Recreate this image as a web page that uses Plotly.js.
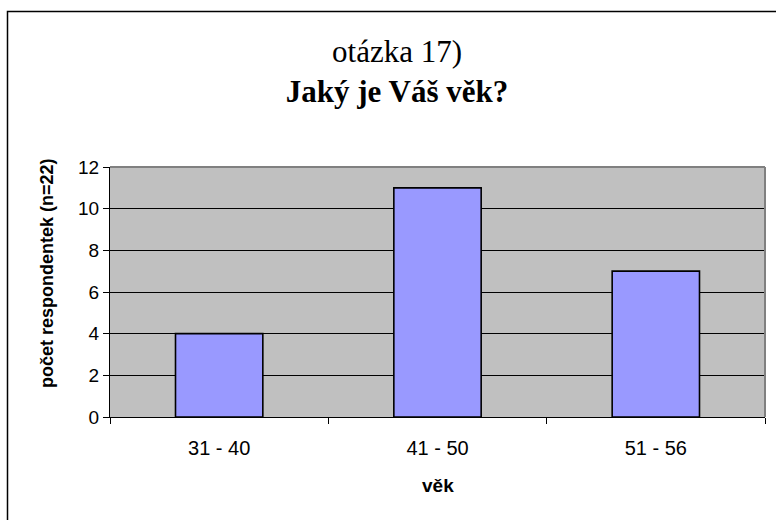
<!DOCTYPE html>
<html>
<head>
<meta charset="utf-8">
<script src="https://cdn.plot.ly/plotly-3.0.1.min.js"></script>
<style>html,body{margin:0;padding:0;background:#fff;}#chart{width:776px;height:520px;}</style>
</head>
<body>
<div id="chart"></div>
<script>
const categories = ["31 - 40", "41 - 50", "51 - 56"];
const values = [4, 11, 7];
const yTicks = [0, 2, 4, 6, 8, 10, 12];
const titleLine1 = "otázka 17)";
const titleLine2 = "Jaký je Váš věk?";
const yTitle = "počet respondentek (n=22)";
const xTitle = "věk";

const sans = "Liberation Sans, Arial, sans-serif";
const serif = "Liberation Serif, Times New Roman, serif";

const trace = {
  type: "bar",
  x: categories,
  y: values,
  marker: {color: "#9999FF", line: {color: "#000000", width: 1.6}},
  width: 0.4,
  hoverinfo: "x+y"
};

const layout = {
  width: 776, height: 520,
  margin: {l: 110, r: 11, t: 167, b: 103, pad: 0},
  paper_bgcolor: "#FFFFFF",
  plot_bgcolor: "#C0C0C0",
  showlegend: false,
  title: {
    text: titleLine1 + "<br><b>" + titleLine2 + "</b>",
    font: {family: serif, size: 31, color: "#000"},
    xref: "container", x: 397 / 776, xanchor: "center",
    yref: "container", y: 1 - 62 / 520, yanchor: "top"
  },
  xaxis: {
    type: "category",
    tickson: "boundaries",
    ticks: "outside", ticklen: 6, tickwidth: 1, tickcolor: "#000",
    showline: true, linecolor: "#000", linewidth: 1,
    showgrid: false, zeroline: false,
    tickfont: {family: sans, size: 20, color: "#000"},
    ticklabelstandoff: 13,
    fixedrange: true
  },
  yaxis: {
    range: [0, 12],
    tickvals: yTicks,
    ticks: "outside", ticklen: 6, tickwidth: 1, tickcolor: "#000",
    showline: true, linecolor: "#000", linewidth: 1,
    showgrid: true, gridcolor: "#000", gridwidth: 1,
    zeroline: false,
    tickfont: {family: sans, size: 19, color: "#000"},
    fixedrange: true
  },
  annotations: [
    {
      text: "<b>" + yTitle + "</b>", textangle: -90,
      xref: "paper", x: (47 - 110) / 655, xanchor: "center",
      yref: "paper", y: (417 - 273) / 250, yanchor: "middle",
      showarrow: false,
      font: {family: sans, size: 18, color: "#000"}
    },
    {
      text: "<b>" + xTitle + "</b>",
      xref: "paper", x: 0.5, xanchor: "center",
      yref: "paper", y: (417 - 485) / 250, yanchor: "middle",
      showarrow: false,
      font: {family: sans, size: 19, color: "#000"}
    }
  ],
  shapes: [
    {type: "line", xref: "paper", yref: "paper", x0: 0, x1: 1, y0: 1, y1: 1,
     line: {color: "#808080", width: 2}, layer: "above"},
    {type: "line", xref: "paper", yref: "paper", x0: 1, x1: 1, y0: 0, y1: 1,
     line: {color: "#808080", width: 2}, layer: "above"},
    {type: "rect", xref: "paper", yref: "paper",
     x0: (7.5 - 110) / 655, x1: 1.05, y0: -0.5, y1: (417 - 11.5) / 250,
     line: {color: "#000", width: 1.5}, fillcolor: "rgba(0,0,0,0)", layer: "above"}
  ]
};

Plotly.newPlot("chart", [trace], layout, {displayModeBar: false, staticPlot: false});
</script>
</body>
</html>
